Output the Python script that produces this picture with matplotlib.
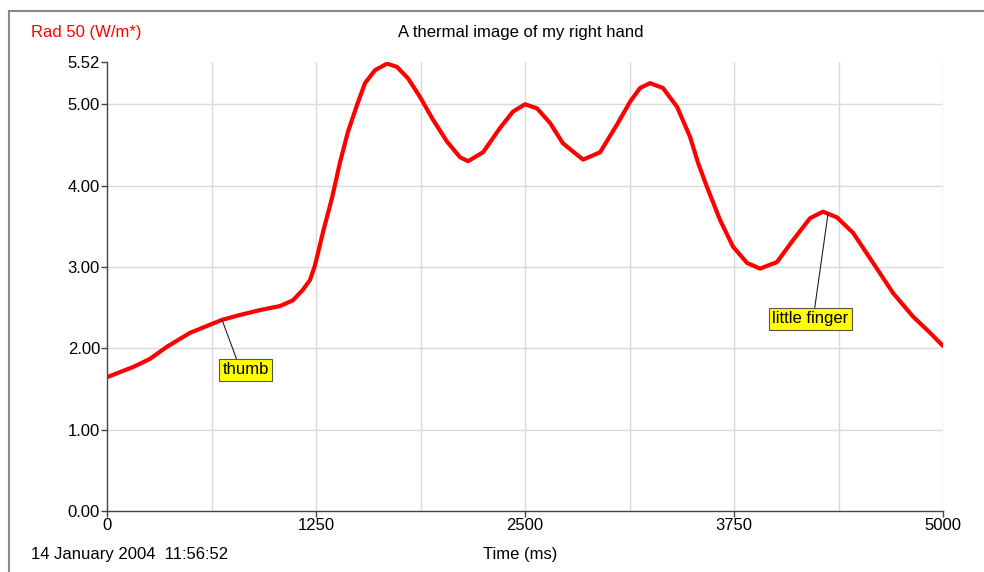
import matplotlib
matplotlib.use("Agg")
import matplotlib.pyplot as plt
from matplotlib.lines import Line2D

plt.rcParams['font.family'] = ['Liberation Sans', 'DejaVu Sans']

# Data (time in ms, radiation)
time_ms = [0, 156, 257, 359, 496, 616, 688, 795, 915, 1035, 1112, 1172, 1214, 1244,
           1292, 1346, 1394, 1441, 1495, 1543, 1603, 1675, 1734, 1800, 1872, 1950,
           2034, 2111, 2159, 2249, 2351, 2428, 2500, 2572, 2650, 2727, 2847, 2949,
           3050, 3128, 3188, 3248, 3325, 3409, 3487, 3535, 3589, 3666, 3744, 3828,
           3906, 4007, 4103, 4205, 4282, 4366, 4462, 4582, 4701, 4821, 4923, 5000]
radiation = [1.645, 1.77, 1.87, 2.02, 2.19, 2.29, 2.35, 2.41, 2.47, 2.52, 2.59, 2.72, 2.84, 3.02,
             3.43, 3.85, 4.29, 4.66, 4.99, 5.26, 5.42, 5.50, 5.46, 5.32, 5.09, 4.81,
             4.54, 4.35, 4.30, 4.41, 4.71, 4.91, 5.00, 4.95, 4.77, 4.52, 4.32, 4.41,
             4.75, 5.03, 5.20, 5.26, 5.20, 4.97, 4.60, 4.28, 3.98, 3.58, 3.25, 3.05,
             2.98, 3.06, 3.33, 3.60, 3.68, 3.61, 3.42, 3.05, 2.68, 2.39, 2.19, 2.03]

y_ticks = [0.00, 1.00, 2.00, 3.00, 4.00, 5.00, 5.52]
x_ticks = [0, 1250, 2500, 3750, 5000]
x_grid = [625, 1250, 1875, 2500, 3125, 3750, 4375, 5000]
y_grid = [1.0, 2.0, 3.0, 4.0, 5.0]

labels = ["thumb", "little finger"]
label_points = [(688, 2.35), (4312, 3.65)]
label_text_pos = [(691, 1.826), (3979, 2.455)]
label_relpos = [(0.33, 1.0), (0.55, 1.0)]

fig = plt.figure(figsize=(9.84, 5.72), dpi=100)
ax = fig.add_axes([107/984, 61/572, 836/984, 449/572])

for g in x_grid:
    ax.axvline(g, color='#dadada', lw=1, zorder=0)
for g in y_grid:
    ax.axhline(g, color='#dadada', lw=1, zorder=0)

ax.plot(time_ms, radiation, color='#ff0000', lw=3.0, solid_capstyle='round',
        solid_joinstyle='round', zorder=3)

ax.set_xlim(0, 5000)
ax.set_ylim(0, 5.52)
ax.set_xticks(x_ticks)
ax.set_xticklabels([str(v) for v in x_ticks])
ax.set_yticks(y_ticks)
ax.set_yticklabels([f"{v:.2f}" for v in y_ticks])
ax.tick_params(axis='both', labelsize=12, length=4, width=1, color='#444444', pad=1)
for s in ['top', 'right']:
    ax.spines[s].set_visible(False)
for s in ['left', 'bottom']:
    ax.spines[s].set_color('#444444')
    ax.spines[s].set_linewidth(1)

for lab, pt, tp, rp in zip(labels, label_points, label_text_pos, label_relpos):
    ax.annotate(lab, xy=pt, xytext=tp, ha='left', va='top', fontsize=12,
                bbox=dict(boxstyle='square,pad=0.2', fc='#ffff00', ec='#555555', lw=0.8),
                arrowprops=dict(arrowstyle='-', color='#222222', lw=0.8, relpos=rp,
                                shrinkA=0, shrinkB=0), zorder=5)

fig.text(31/984, 1 - 33/572, "Rad 50 (W/m*)", color='#ff0000', fontsize=12, ha='left', va='center')
fig.text(521/984, 1 - 33/572, "A thermal image of my right hand", color='black', fontsize=12,
         ha='center', va='center')
fig.text(31/984, 1 - 554/572, "14 January 2004  11:56:52", fontsize=12, ha='left', va='center')
fig.text(520/984, 1 - 554/572, "Time (ms)", fontsize=12, ha='center', va='center')

# window frame
fig.add_artist(Line2D([9/984, 9/984], [0, 1 - 11/572], transform=fig.transFigure,
                      color='#8a8a8a', lw=1.5))
fig.add_artist(Line2D([9/984, 1], [1 - 11/572, 1 - 11/572], transform=fig.transFigure,
                      color='#8a8a8a', lw=1.5))

fig.savefig("out.png", dpi=100)
